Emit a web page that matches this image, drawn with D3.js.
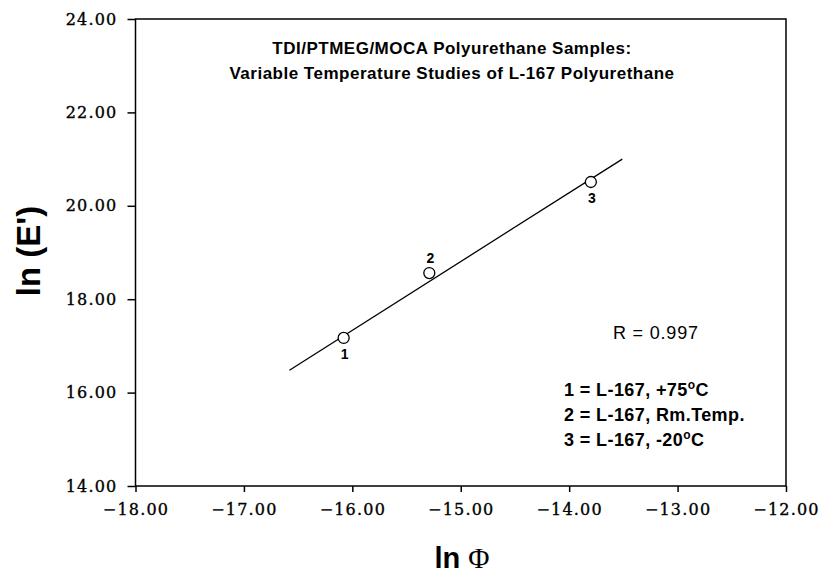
<!DOCTYPE html>
<html>
<head>
<meta charset="utf-8">
<script src="https://cdn.jsdelivr.net/npm/d3@7"></script>
<style>
  body { margin: 0; background: #fff; }
  svg { display: block; }
  .tick text { font-family: "DejaVu Serif", serif; font-size: 16px; letter-spacing: 1.2px; fill: #000; stroke: #000; stroke-width: 0.35px; }
</style>
</head>
<body>
<div id="chart"></div>
<script>
// sample points (ln phi, ln E')
var sampleIds = ["1", "2", "3"];
var lnPhi = [-16.08, -15.29, -13.80];
var lnE = [17.17, 18.56, 20.51];
// fit line end points
var fitX = [-16.58, -13.51];
var fitY = [16.48, 21.00];
var xTicks = [-18, -17, -16, -15, -14, -13, -12];
var yTicks = [14, 16, 18, 20, 22, 24];
var titleLines = ["TDI/PTMEG/MOCA Polyurethane Samples:", "Variable Temperature Studies of L-167 Polyurethane"];
var legendLines = ["1 = L-167, +75", "2 = L-167, Rm.Temp.", "3 = L-167, -20"];
var legendDegree = [true, false, true];

var width = 822, height = 573;
var margin = {left: 135.5, right: 36, top: 19, bottom: 87};

var svg = d3.select("#chart").append("svg").attr("width", width).attr("height", height);

var x = d3.scaleLinear().domain([-18, -12]).range([margin.left, width - margin.right]);
var y = d3.scaleLinear().domain([14, 24]).range([height - margin.bottom, margin.top]);

// frame
svg.append("rect")
    .attr("x", x(-18)).attr("y", y(24))
    .attr("width", x(-12) - x(-18)).attr("height", y(14) - y(24))
    .attr("fill", "none").attr("stroke", "#000").attr("stroke-width", 1.5);

var fmt = d3.format(".2f");

svg.append("g")
    .attr("transform", "translate(0," + y(14) + ")")
    .call(d3.axisBottom(x).tickValues(xTicks).tickFormat(fmt).tickSize(6).tickPadding(12))
    .call(function (g) { g.select(".domain").remove(); })
    .call(function (g) { g.selectAll("line").attr("stroke-width", 1.5); });

svg.append("g")
    .attr("transform", "translate(" + x(-18) + ",0)")
    .call(d3.axisLeft(y).tickValues(yTicks).tickFormat(fmt).tickSize(8).tickPadding(10))
    .call(function (g) { g.select(".domain").remove(); })
    .call(function (g) { g.selectAll("line").attr("stroke-width", 1.5); });

// title
svg.append("g").selectAll("text")
    .data(titleLines)
    .enter()
    .append("text")
    .attr("x", 452)
    .attr("y", function (d, i) { return 54 + i * 25; })
    .attr("text-anchor", "middle")
    .style("font-family", "Liberation Sans, Arial, sans-serif")
    .style("font-weight", "bold")
    .style("font-size", "17px")
    .style("letter-spacing", "0.5px")
    .text(function (d) { return d; });

// fit line
svg.append("line")
    .attr("x1", x(fitX[0])).attr("y1", y(fitY[0]))
    .attr("x2", x(fitX[1])).attr("y2", y(fitY[1]))
    .attr("stroke", "#000").attr("stroke-width", 1.3);

// points
var pts = sampleIds.map(function (id, i) { return {id: id, x: lnPhi[i], y: lnE[i]}; });

svg.append("g").selectAll("circle")
    .data(pts)
    .enter()
    .append("circle")
    .attr("cx", function (d) { return x(d.x); })
    .attr("cy", function (d) { return y(d.y); })
    .attr("r", 5.5)
    .attr("fill", "#fff")
    .attr("stroke", "#000")
    .attr("stroke-width", 1.3);

// point labels: 2 sits above, others below
svg.append("g").selectAll("text")
    .data(pts)
    .enter()
    .append("text")
    .attr("x", function (d) { return x(d.x) + 1; })
    .attr("y", function (d) { return d.id === "2" ? y(d.y) - 10 : y(d.y) + 21; })
    .attr("text-anchor", "middle")
    .style("font-family", "Liberation Sans, Arial, sans-serif")
    .style("font-weight", "bold")
    .style("font-size", "14px")
    .text(function (d) { return d.id; });

// R value
svg.append("text")
    .attr("x", 613).attr("y", 339)
    .style("font-family", "Liberation Sans, Arial, sans-serif")
    .style("font-size", "18px")
    .style("letter-spacing", "0.8px")
    .text("R = 0.997");

// legend
var leg = svg.append("g").selectAll("text")
    .data(legendLines)
    .enter()
    .append("text")
    .attr("x", 564)
    .attr("y", function (d, i) { return 396 + i * 25; })
    .style("font-family", "Liberation Sans, Arial, sans-serif")
    .style("font-weight", "bold")
    .style("font-size", "18px")
    .style("letter-spacing", "0.4px")
    .text(function (d) { return d; });

leg.filter(function (d, i) { return legendDegree[i]; })
    .append("tspan").attr("dy", -7).style("font-size", "12px").text("o");
leg.filter(function (d, i) { return legendDegree[i]; })
    .append("tspan").attr("dy", 7).text("C");

// axis titles
svg.append("text")
    .attr("transform", "translate(40,251) rotate(-90)")
    .attr("text-anchor", "middle")
    .style("font-family", "Liberation Sans, Arial, sans-serif")
    .style("font-weight", "bold")
    .style("font-size", "33px")
    .text("ln (E')");

var xt = svg.append("text")
    .attr("x", 462).attr("y", 568)
    .attr("text-anchor", "middle")
    .style("font-size", "29px");
xt.append("tspan")
    .style("font-family", "Liberation Sans, Arial, sans-serif")
    .style("font-weight", "bold")
    .text("ln ");
xt.append("tspan")
    .style("font-family", "Liberation Serif, serif")
    .text("Φ");
</script>
</body>
</html>
